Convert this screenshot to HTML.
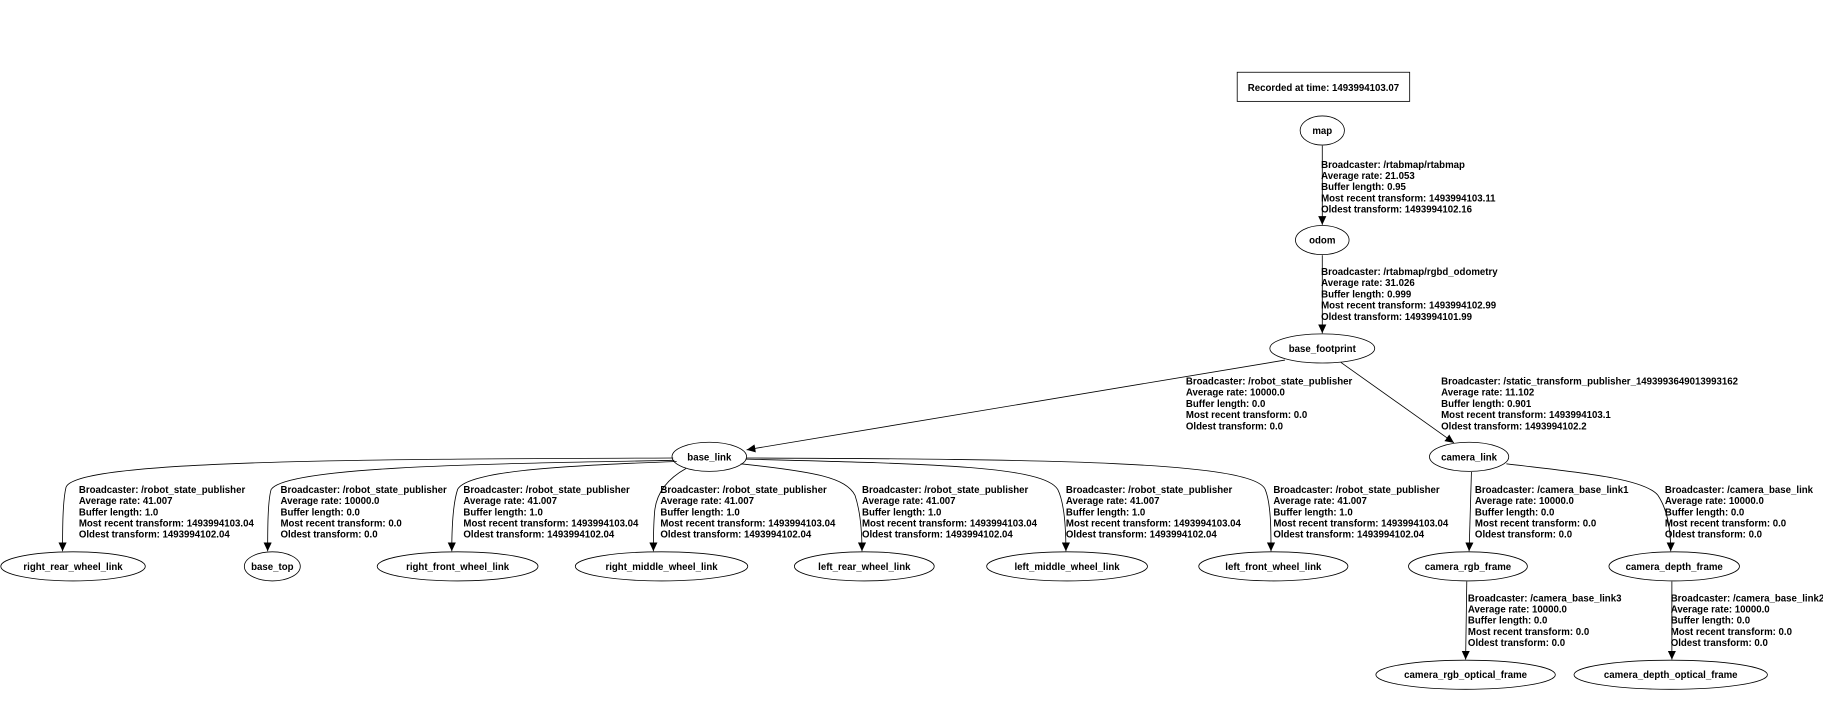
<!DOCTYPE html>
<html><head><meta charset="utf-8"><style>html,body{margin:0;padding:0;background:#fff}svg{display:block}
text{font-family:"Liberation Sans",sans-serif;font-weight:bold;font-size:8.3px;fill:#000}
.n{text-anchor:middle}
</style></head><body>
<svg width="1823" height="726" viewBox="0 0 1563 623" xmlns="http://www.w3.org/2000/svg">
<defs><marker id="a" markerWidth="8" markerHeight="7" refX="7.5" refY="3.5" orient="auto" markerUnits="userSpaceOnUse"><path d="M0,0 L7.5,3.5 L0,7 z" fill="#000"/></marker></defs>
<g fill="none" stroke="#000" stroke-width="0.7">
<rect x="1061" y="62" width="148" height="25"/>
<ellipse cx="1134" cy="112" rx="19" ry="12.5"/>
<ellipse cx="1134" cy="206" rx="23" ry="12.5"/>
<ellipse cx="1134" cy="299" rx="45" ry="12.5"/>
<ellipse cx="608" cy="392" rx="32" ry="12.5"/>
<ellipse cx="1260" cy="392" rx="34" ry="12.5"/>
<ellipse cx="62" cy="486" rx="62" ry="12.5"/>
<ellipse cx="233" cy="486" rx="24" ry="12.5"/>
<ellipse cx="392" cy="486" rx="69" ry="12.5"/>
<ellipse cx="567" cy="486" rx="74" ry="12.5"/>
<ellipse cx="741" cy="486" rx="60" ry="12.5"/>
<ellipse cx="915" cy="486" rx="69" ry="12.5"/>
<ellipse cx="1092" cy="486" rx="64" ry="12.5"/>
<ellipse cx="1259" cy="486" rx="51" ry="12.5"/>
<ellipse cx="1436" cy="486" rx="56" ry="12.5"/>
<ellipse cx="1257" cy="579" rx="77" ry="12.5"/>
<ellipse cx="1433" cy="579" rx="83" ry="12.5"/>
<path d="M1134,125 L1134,193" marker-end="url(#a)"/>
<path d="M1134,219 L1134,286" marker-end="url(#a)"/>
<path d="M1102,309 L640,386" marker-end="url(#a)"/>
<path d="M1150,311 L1247,380" marker-end="url(#a)"/>
<path d="M577,393 C300,394 65,395 56,418 C53,430 53,455 53,473" marker-end="url(#a)"/>
<path d="M578,395 C420,398 245,400 232,420 C229,430 229,455 229,473" marker-end="url(#a)"/>
<path d="M580,396 C470,400 400,405 392,420 C388,432 387,455 387,473" marker-end="url(#a)"/>
<path d="M588,402 C570,412 562,425 561,440 C560,452 560,462 560,473" marker-end="url(#a)"/>
<path d="M635,398 C700,405 725,410 733,425 C738,440 739,460 739,473" marker-end="url(#a)"/>
<path d="M639,394 C800,398 895,400 907,420 C913,432 914,455 914,473" marker-end="url(#a)"/>
<path d="M640,393 C900,394 1075,396 1085,420 C1090,432 1090,455 1090,473" marker-end="url(#a)"/>
<path d="M1262,405 L1260,473" marker-end="url(#a)"/>
<path d="M1292,398 C1350,405 1410,410 1422,425 C1432,440 1433,460 1433,473" marker-end="url(#a)"/>
<path d="M1258,499 L1257,566" marker-end="url(#a)"/>
<path d="M1434,499 L1434,566" marker-end="url(#a)"/>
</g>
<text class="n" x="1135" y="78">Recorded at time: 1493994103.07</text>
<text class="n" x="1134" y="115">map</text>
<text class="n" x="1134" y="209">odom</text>
<text class="n" x="1134" y="302">base_footprint</text>
<text class="n" x="608" y="395">base_link</text>
<text class="n" x="1260" y="395">camera_link</text>
<text class="n" x="62" y="489">right_rear_wheel_link</text>
<text class="n" x="233" y="489">base_top</text>
<text class="n" x="392" y="489">right_front_wheel_link</text>
<text class="n" x="567" y="489">right_middle_wheel_link</text>
<text class="n" x="741" y="489">left_rear_wheel_link</text>
<text class="n" x="915" y="489">left_middle_wheel_link</text>
<text class="n" x="1092" y="489">left_front_wheel_link</text>
<text class="n" x="1259" y="489">camera_rgb_frame</text>
<text class="n" x="1436" y="489">camera_depth_frame</text>
<text class="n" x="1257" y="582">camera_rgb_optical_frame</text>
<text class="n" x="1433" y="582">camera_depth_optical_frame</text>

<text x="1133" y="144"><tspan x="1133">Broadcaster: /rtabmap/rtabmap</tspan><tspan x="1133" dy="9.6">Average rate: 21.053</tspan><tspan x="1133" dy="9.6">Buffer length: 0.95</tspan><tspan x="1133" dy="9.6">Most recent transform: 1493994103.11</tspan><tspan x="1133" dy="9.6">Oldest transform: 1493994102.16</tspan></text>
<text x="1133" y="236"><tspan x="1133">Broadcaster: /rtabmap/rgbd_odometry</tspan><tspan x="1133" dy="9.6">Average rate: 31.026</tspan><tspan x="1133" dy="9.6">Buffer length: 0.999</tspan><tspan x="1133" dy="9.6">Most recent transform: 1493994102.99</tspan><tspan x="1133" dy="9.6">Oldest transform: 1493994101.99</tspan></text>
<text y="330"><tspan x="1017">Broadcaster: /robot_state_publisher</tspan><tspan x="1017" dy="9.6">Average rate: 10000.0</tspan><tspan x="1017" dy="9.6">Buffer length: 0.0</tspan><tspan x="1017" dy="9.6">Most recent transform: 0.0</tspan><tspan x="1017" dy="9.6">Oldest transform: 0.0</tspan></text>
<text y="330"><tspan x="1236">Broadcaster: /static_transform_publisher_1493993649013993162</tspan><tspan x="1236" dy="9.6">Average rate: 11.102</tspan><tspan x="1236" dy="9.6">Buffer length: 0.901</tspan><tspan x="1236" dy="9.6">Most recent transform: 1493994103.1</tspan><tspan x="1236" dy="9.6">Oldest transform: 1493994102.2</tspan></text>

<text y="423"><tspan x="67">Broadcaster: /robot_state_publisher</tspan><tspan x="67" dy="9.6">Average rate: 41.007</tspan><tspan x="67" dy="9.6">Buffer length: 1.0</tspan><tspan x="67" dy="9.6">Most recent transform: 1493994103.04</tspan><tspan x="67" dy="9.6">Oldest transform: 1493994102.04</tspan></text>
<text y="423"><tspan x="240">Broadcaster: /robot_state_publisher</tspan><tspan x="240" dy="9.6">Average rate: 10000.0</tspan><tspan x="240" dy="9.6">Buffer length: 0.0</tspan><tspan x="240" dy="9.6">Most recent transform: 0.0</tspan><tspan x="240" dy="9.6">Oldest transform: 0.0</tspan></text>
<text y="423"><tspan x="397">Broadcaster: /robot_state_publisher</tspan><tspan x="397" dy="9.6">Average rate: 41.007</tspan><tspan x="397" dy="9.6">Buffer length: 1.0</tspan><tspan x="397" dy="9.6">Most recent transform: 1493994103.04</tspan><tspan x="397" dy="9.6">Oldest transform: 1493994102.04</tspan></text>
<text y="423"><tspan x="566">Broadcaster: /robot_state_publisher</tspan><tspan x="566" dy="9.6">Average rate: 41.007</tspan><tspan x="566" dy="9.6">Buffer length: 1.0</tspan><tspan x="566" dy="9.6">Most recent transform: 1493994103.04</tspan><tspan x="566" dy="9.6">Oldest transform: 1493994102.04</tspan></text>
<text y="423"><tspan x="739">Broadcaster: /robot_state_publisher</tspan><tspan x="739" dy="9.6">Average rate: 41.007</tspan><tspan x="739" dy="9.6">Buffer length: 1.0</tspan><tspan x="739" dy="9.6">Most recent transform: 1493994103.04</tspan><tspan x="739" dy="9.6">Oldest transform: 1493994102.04</tspan></text>
<text y="423"><tspan x="914">Broadcaster: /robot_state_publisher</tspan><tspan x="914" dy="9.6">Average rate: 41.007</tspan><tspan x="914" dy="9.6">Buffer length: 1.0</tspan><tspan x="914" dy="9.6">Most recent transform: 1493994103.04</tspan><tspan x="914" dy="9.6">Oldest transform: 1493994102.04</tspan></text>
<text y="423"><tspan x="1092">Broadcaster: /robot_state_publisher</tspan><tspan x="1092" dy="9.6">Average rate: 41.007</tspan><tspan x="1092" dy="9.6">Buffer length: 1.0</tspan><tspan x="1092" dy="9.6">Most recent transform: 1493994103.04</tspan><tspan x="1092" dy="9.6">Oldest transform: 1493994102.04</tspan></text>
<text y="423"><tspan x="1265">Broadcaster: /camera_base_link1</tspan><tspan x="1265" dy="9.6">Average rate: 10000.0</tspan><tspan x="1265" dy="9.6">Buffer length: 0.0</tspan><tspan x="1265" dy="9.6">Most recent transform: 0.0</tspan><tspan x="1265" dy="9.6">Oldest transform: 0.0</tspan></text>
<text y="423"><tspan x="1428">Broadcaster: /camera_base_link</tspan><tspan x="1428" dy="9.6">Average rate: 10000.0</tspan><tspan x="1428" dy="9.6">Buffer length: 0.0</tspan><tspan x="1428" dy="9.6">Most recent transform: 0.0</tspan><tspan x="1428" dy="9.6">Oldest transform: 0.0</tspan></text>
<text y="516"><tspan x="1259">Broadcaster: /camera_base_link3</tspan><tspan x="1259" dy="9.6">Average rate: 10000.0</tspan><tspan x="1259" dy="9.6">Buffer length: 0.0</tspan><tspan x="1259" dy="9.6">Most recent transform: 0.0</tspan><tspan x="1259" dy="9.6">Oldest transform: 0.0</tspan></text>
<text y="516"><tspan x="1433">Broadcaster: /camera_base_link2</tspan><tspan x="1433" dy="9.6">Average rate: 10000.0</tspan><tspan x="1433" dy="9.6">Buffer length: 0.0</tspan><tspan x="1433" dy="9.6">Most recent transform: 0.0</tspan><tspan x="1433" dy="9.6">Oldest transform: 0.0</tspan></text>
</svg>
</body></html>
